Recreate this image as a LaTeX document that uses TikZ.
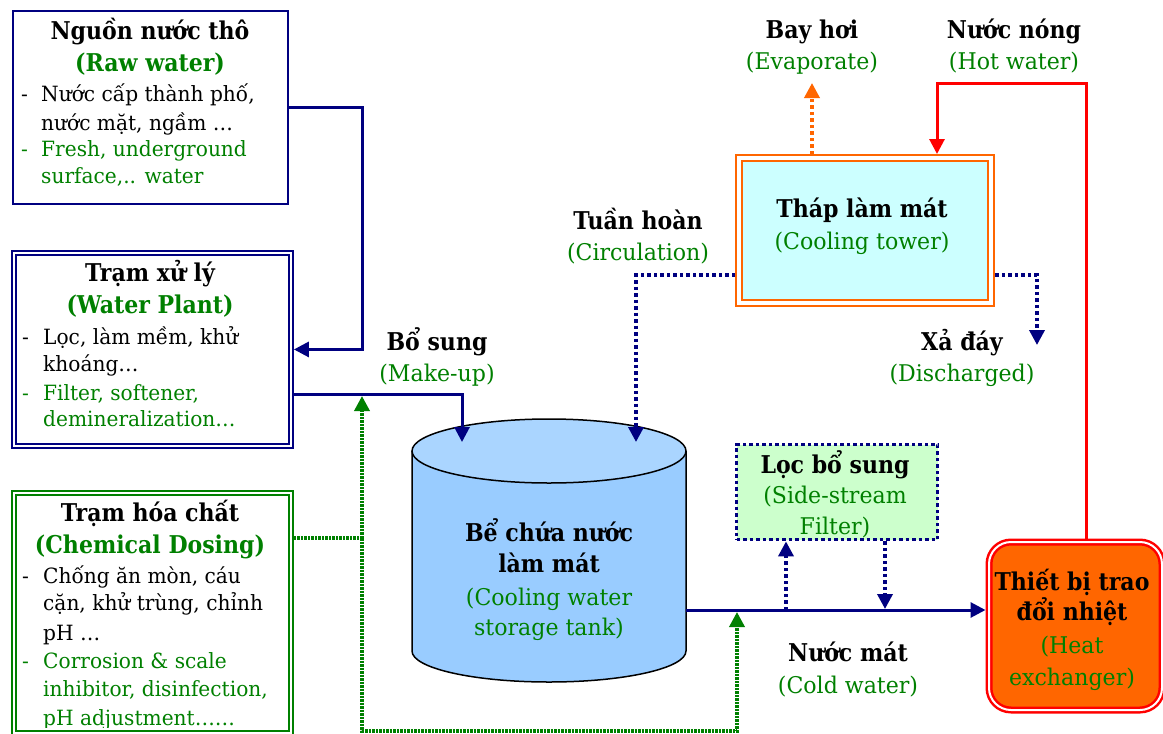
\documentclass[tikz,border=0pt]{standalone}
\usepackage{fontspec}
\setmainfont{DejaVu Serif}[UprightFeatures={FakeStretch=0.96},BoldFeatures={FakeStretch=0.9}]
\usetikzlibrary{arrows.meta,calc}
\definecolor{navy}{HTML}{000080}
\definecolor{tgreen}{HTML}{008000}
\definecolor{torange}{HTML}{FF6600}
\definecolor{tred}{HTML}{FF0000}
\definecolor{towerfill}{HTML}{CCFFFF}
\definecolor{filterfill}{HTML}{CCFFCC}
\definecolor{tankbody}{HTML}{99CCFF}
\definecolor{tanktop}{HTML}{AAD5FF}
\tikzset{
  lbl/.style={inner sep=0pt, anchor=base, font=\fontsize{23}{26}\selectfont},
  bl/.style={inner sep=0pt, anchor=base, font=\fontsize{24.5}{28}\selectfont\bfseries},
  gl/.style={lbl, text=tgreen},
  gb/.style={bl, text=tgreen},
  ll/.style={inner sep=0pt, anchor=base west, font=\fontsize{21}{26}\selectfont},
  gll/.style={ll, text=tgreen},
  boxnode/.style={anchor=north west, inner sep=0pt},
  navyline/.style={draw=navy, line width=3pt},
  redline/.style={draw=tred, line width=3pt},
  ndot/.style={draw=navy, line width=3.5pt, dash pattern=on 3.5pt off 3pt},
  gdot/.style={draw=tgreen, line width=3.5pt, dash pattern=on 2.5pt off 1pt},
  odot/.style={draw=torange, line width=3.5pt, dash pattern=on 3.5pt off 3pt},
  tip/.style={-{Triangle[length=15pt,width=15pt]}}
}
\begin{document}
\begin{tikzpicture}[x=1pt,y=-1pt]
\useasboundingbox (0,0) rectangle (1163,734);
\fill[white] (0,0) rectangle (1163,734);

% ---------- boxes ----------
\node[boxnode, draw=navy, line width=2pt, minimum width=275pt, minimum height=193pt, outer sep=1pt] (raw) at (12,10) {};
\node[boxnode, draw=navy, double=white, line width=2pt, double distance=2.4pt, minimum width=276.5pt, minimum height=193.5pt, outer sep=3.2pt] (wp) at (11,249.5) {};
\node[boxnode, draw=tgreen, double=white, line width=2pt, double distance=2.4pt, minimum width=276.5pt, minimum height=240pt, outer sep=3.2pt] (chem) at (11,490) {};
\node[boxnode, draw=torange, fill=towerfill, double=white, line width=2.5pt, double distance=3.5pt, minimum width=252pt, minimum height=145pt, outer sep=4.2pt] (tower) at (735,154) {};
\node[boxnode, ndot, fill=filterfill, minimum width=201pt, minimum height=95pt, outer sep=1.7pt] (filter) at (735,443) {};
\node[boxnode, draw=tred, fill=torange, double=white, line width=2.5pt, double distance=2pt, rounded corners=22pt, minimum width=173pt, minimum height=168pt, outer sep=3.5pt] (hx) at (985.5,538.5) {};

% ---------- tank ----------
\fill[tankbody] (549,651) ellipse[x radius=137, y radius=31];
\fill[tankbody] (412,451) rectangle (686,651);
\draw[line width=1.5pt] (412,451) -- (412,651) arc[start angle=180, end angle=0, x radius=137, y radius=31] -- (686,451);
\filldraw[fill=tanktop, line width=1.5pt] (549,451) ellipse[x radius=137, y radius=32];
\node[boxnode, minimum width=274pt, minimum height=200pt, outer sep=0pt] (tank) at (412,451) {};

% ---------- named points ----------
\coordinate (rv) at (362,200);
\coordinate (mk) at (0,394);
\coordinate (tankin1) at (462,442);
\coordinate (tankin2) at (636,442);
\coordinate (gj) at (362,538);
\coordinate (mkin) at (362,396);
\coordinate (gb1) at (362,731);
\coordinate (gb2) at (737,731);
\coordinate (cwin) at (737,612);
\coordinate (cw) at (0,610);
\coordinate (f1) at (786,610);
\coordinate (f2) at (885,609);
\coordinate (ct) at (0,275);
\coordinate (dis) at (1037,345);
\coordinate (evap) at (812,83);
\coordinate (hw) at (1086,83);
\coordinate (hwin) at (937,0);

% ---------- connectors ----------
\draw[navyline, tip] (raw.east) -| (rv) |- (wp.east);
\draw[navyline, tip] (wp.east |- mk) -| (tankin1);
\draw[gdot] (chem.east |- gj) -- (gj);
\draw[gdot, tip] (gj) -- (mkin);
\draw[gdot, tip] (gj) -- (gb1) -- (gb2) -- (cwin);
\draw[ndot, tip] (tower.west |- ct) -| (tankin2);
\draw[ndot, tip] (tower.east |- ct) -| (dis);
\draw[odot, tip] (tower.north -| evap) -- (evap);
\draw[redline, tip] (hx.north -| hw) -- (hw) -| (tower.north -| hwin);
\draw[navyline, tip] (tank.east |- cw) -- (hx.west |- cw);
\draw[ndot, tip] (f1) -- (filter.south -| f1);
\draw[ndot, tip] (filter.south -| f2) -- (f2);

% ---------- box texts ----------
\node[bl] (rawt1) at (150,39.5) {Nguồn nước thô};
\node[gb] (rawt2) at (150,71.5) {(Raw water)};
\node[ll] (rawd1) at (21,101.5) {-};
\node[ll] (rawl1) at (41,101.5) {Nước cấp thành phố,};
\node[ll] (rawl2) at (41,130.5) {nước mặt, ngầm …};
\node[gll] (rawd2) at (21,156.5) {-};
\node[gll] (rawl3) at (41,156.5) {Fresh, underground};
\node[gll] (rawl4) at (41,183.5) {surface,.. water};

\node[bl] (wpt1) at (150,281.5) {Trạm xử lý};
\node[gb] (wpt2) at (150,313.5) {(Water Plant)};
\node[ll] (wpd1) at (22,344.5) {-};
\node[ll] (wpl1) at (43,344.5) {Lọc, làm mềm, khử};
\node[ll] (wpl2) at (43,371.5) {khoáng…};
\node[gll] (wpd2) at (22,400.5) {-};
\node[gll] (wpl3) at (43,400.5) {Filter, softener,};
\node[gll] (wpl4) at (43,426.5) {demineralization…};

\begin{scope}
\clip (11,490) rectangle (287.5,727);
\node[bl] (cht1) at (150,521.5) {Trạm hóa chất};
\node[gb] (cht2) at (150,553.5) {(Chemical Dosing)};
\node[ll] (chd1) at (22,583.5) {-};
\node[ll] (chl1) at (43,583.5) {Chống ăn mòn, cáu};
\node[ll] (chl2) at (43,610.5) {cặn, khử trùng, chỉnh};
\node[ll] (chl3) at (43,640.5) {pH …};
\node[gll] (chd2) at (22,668.5) {-};
\node[gll] (chl4) at (43,668.5) {Corrosion \& scale};
\node[gll] (chl5) at (43,696.5) {inhibitor, disinfection,};
\node[gll] (chl6) at (43,725) {pH adjustment……};
\end{scope}

\node[bl] (tk1) at (549,541.5) {Bể chứa nước};
\node[bl] (tk2) at (549,572.5) {làm mát};
\node[gl] (tk3) at (549,605.5) {(Cooling water};
\node[gl] (tk4) at (549,635.5) {storage tank)};

\node[bl] (tw1) at (862,217.5) {Tháp làm mát};
\node[gl] (tw2) at (862,249.5) {(Cooling tower)};

\node[bl] (fl1) at (835,473.5) {Lọc bổ sung};
\node[gl] (fl2) at (835,503.5) {(Side-stream};
\node[gl] (fl3) at (835,534.5) {Filter)};

\node[bl] (hx1) at (1072,590.5) {Thiết bị trao};
\node[bl] (hx2) at (1072,620.5) {đổi nhiệt};
\node[gl] (hx3) at (1072,653.5) {(Heat};
\node[gl] (hx4) at (1072,685.5) {exchanger)};

% ---------- flow labels ----------
\node[bl] (ev1) at (812,38.5) {Bay hơi};
\node[gl] (ev2) at (812,69.5) {(Evaporate)};
\node[bl] (hw1) at (1014,38.5) {Nước nóng};
\node[gl] (hw2) at (1014,69.5) {(Hot water)};
\node[bl] (ci1) at (638,229.5) {Tuần hoàn};
\node[gl] (ci2) at (638,260.5) {(Circulation)};
\node[bl] (di1) at (962,350.5) {Xả đáy};
\node[gl] (di2) at (962,381.5) {(Discharged)};
\node[bl] (mu1) at (437,350.5) {Bổ sung};
\node[gl] (mu2) at (437,381.5) {(Make-up)};
\node[bl] (cd1) at (848,661.5) {Nước mát};
\node[gl] (cd2) at (848,693.5) {(Cold water)};
\end{tikzpicture}
\end{document}
